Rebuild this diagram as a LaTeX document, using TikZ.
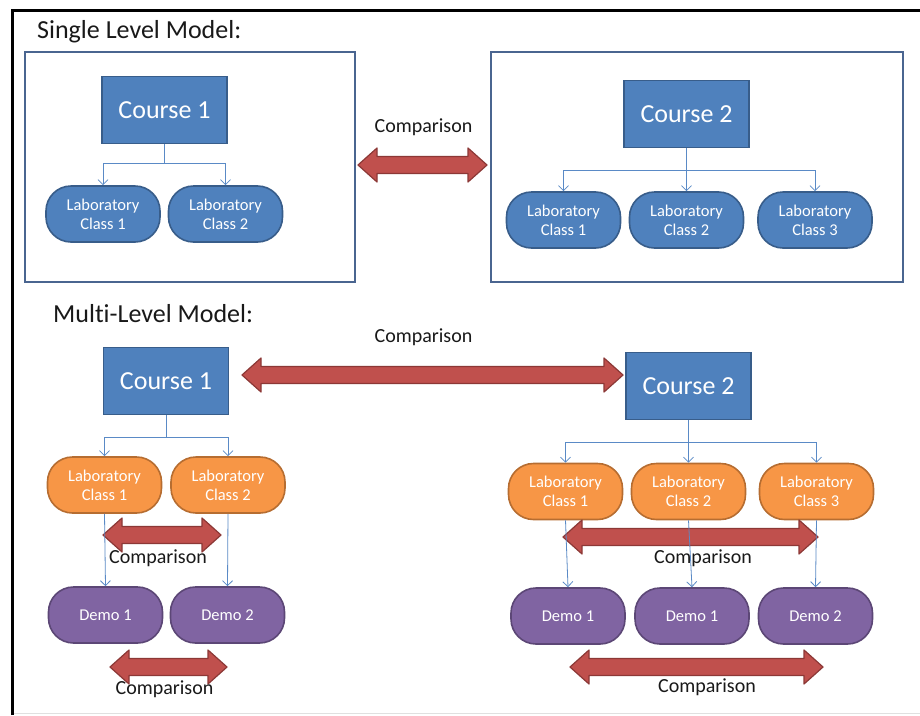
\documentclass[tikz,border=0pt]{standalone}
\usepackage{fontspec}
\setmainfont{Carlito}[Ligatures=NoCommon]
\usetikzlibrary{arrows.meta}

\definecolor{courseFill}{HTML}{4F81BD}
\definecolor{courseLine}{HTML}{385D8A}
\definecolor{labFill}{HTML}{F79646}
\definecolor{labLine}{HTML}{B66D31}
\definecolor{demoFill}{HTML}{8064A2}
\definecolor{demoLine}{HTML}{5C4776}
\definecolor{cmpFill}{HTML}{C0504D}
\definecolor{cmpLine}{HTML}{8C3836}
\definecolor{frameBlue}{HTML}{4A6590}
\definecolor{linkBlue}{HTML}{5A8AC6}

% double-headed comparison arrow: #1 = left tip x, #2 = right tip x, #3 = centre y
\newcommand\cmparrow[3]{%
  \pgfmathsetmacro\cmpXa{#1+19}\pgfmathsetmacro\cmpXb{#2-19}%
  \pgfmathsetmacro\cmpYt{#3-17}\pgfmathsetmacro\cmpYb{#3+17}%
  \pgfmathsetmacro\cmpSt{#3-8.5}\pgfmathsetmacro\cmpSb{#3+8.5}%
  \draw[cmp] (#1,#3) -- (\cmpXa,\cmpYt) -- (\cmpXa,\cmpSt) -- (\cmpXb,\cmpSt)
    -- (\cmpXb,\cmpYt) -- (#2,#3) -- (\cmpXb,\cmpYb) -- (\cmpXb,\cmpSb)
    -- (\cmpXa,\cmpSb) -- (\cmpXa,\cmpYb) -- cycle;}

\begin{document}
\begin{tikzpicture}[x=1pt,y=-1pt,
  course/.style={draw=courseLine, fill=courseFill, line width=1.6pt,
    text=white, font=\fontsize{26}{30}\selectfont,
    minimum width=125pt, minimum height=67pt, inner sep=0pt},
  pill/.style={line width=1.6pt, rounded corners=25pt, text=white,
    align=center, font=\fontsize{16.5}{19}\selectfont,
    minimum width=114pt, minimum height=56pt, inner sep=0pt},
  lab/.style={pill, draw=courseLine, fill=courseFill},
  olab/.style={pill, draw=labLine, fill=labFill},
  demo/.style={pill, draw=demoLine, fill=demoFill},
  group/.style={draw=frameBlue, line width=2.4pt},
  link/.style={draw=linkBlue, line width=0.8pt,
    -{Straight Barb[length=5pt,width=10pt]}},
  cmp/.style={fill=cmpFill, draw=cmpLine, line width=1.2pt, line join=round},
  cmplabel/.style={anchor=base, font=\fontsize{20}{24}\selectfont, text=black!90, inner sep=0pt},
  title/.style={anchor=base west, font=\fontsize{26}{30}\selectfont, text=black!90, inner sep=0pt}]

\useasboundingbox (0,0) rectangle (920,715);
\fill[white] (0,0) rectangle (920,715);

% outer frame
\draw[black, line width=3pt] (12,715) -- (12,10) -- (920,10);
\draw[black!12, line width=1pt] (14,713) -- (920,713);

% ---------------- single level model ----------------
\node[title] (t1) at (37,38) {Single Level Model:};
\draw[group] (25,52) rectangle (355,282);
\draw[group] (491,52) rectangle (903,282);

\node[course] (sC1) at (164.5,110) {Course 1};
\node[lab] (sL1) at (103,214) {Laboratory\\Class 1};
\node[lab] (sL2) at (225.5,214) {Laboratory\\Class 2};
\coordinate (sJ1) at (164.5,163);
\draw[draw=linkBlue, line width=0.8pt] (sC1.south) -- (sJ1);
\draw[link] (sJ1) -| (sL1.north);
\draw[link] (sJ1) -| (sL2.north);

\node[course] (sC2) at (686.5,114) {Course 2};
\node[lab] (sR1) at (563.5,220) {Laboratory\\Class 1};
\node[lab] (sR2) at (686.5,220) {Laboratory\\Class 2};
\node[lab] (sR3) at (815,220) {Laboratory\\Class 3};
\coordinate (sJ2) at (686.5,170);
\draw[draw=linkBlue, line width=0.8pt] (sC2.south) -- (sJ2);
\draw[link] (sJ2) -| (sR1.north);
\draw[link] (sC2.south) -- (sR2.north);
\draw[link] (sJ2) -| (sR3.north);

\cmparrow{358}{487}{165}
\node[cmplabel] (c1) at (423.5,132) {Comparison};

% ---------------- multi-level model ----------------
\node[title] (t2) at (53,322) {Multi-Level Model:};

\node[course] (mC1) at (166,381) {Course 1};
\node[olab] (mL1) at (104.5,485) {Laboratory\\Class 1};
\node[olab] (mL2) at (228,485) {Laboratory\\Class 2};
\node[demo] (mD1) at (105.5,615) {Demo 1};
\node[demo] (mD2) at (227.5,615) {Demo 2};
\coordinate (mJ1) at (166,437);
\draw[draw=linkBlue, line width=0.8pt] (mC1.south) -- (mJ1);
\draw[link] (mJ1) -| (mL1.north);
\draw[link] (mJ1) -| (mL2.north);

\node[course] (mC2) at (688.5,386) {Course 2};
\node[olab] (mR1) at (565.5,491.5) {Laboratory\\Class 1};
\node[olab] (mR2) at (688.5,491.5) {Laboratory\\Class 2};
\node[olab] (mR3) at (816.5,491.5) {Laboratory\\Class 3};
\node[demo] (mE1) at (568,616) {Demo 1};
\node[demo] (mE2) at (692,616) {Demo 1};
\node[demo] (mE3) at (815.5,616) {Demo 2};
\coordinate (mJ2) at (688.5,442);
\draw[draw=linkBlue, line width=0.8pt] (mC2.south) -- (mJ2);
\draw[link] (mJ2) -| (mR1.north);
\draw[link] (mC2.south) -- (mR2.north);
\draw[link] (mJ2) -| (mR3.north);

% comparison arrows between the two hierarchies
\cmparrow{242}{623}{375}
\node[cmplabel] (c2) at (423.5,342) {Comparison};

\cmparrow{103}{221}{535}
\node[cmplabel] (c3) at (158,563) {Comparison};
\cmparrow{110}{227}{667}
\node[cmplabel] (c4) at (164.5,694) {Comparison};

\cmparrow{563}{818}{537}
\node[cmplabel] (c5) at (703,563) {Comparison};
\cmparrow{570}{823}{667}
\node[cmplabel] (c6) at (707,692) {Comparison};

% laboratory class to demo links
\draw[link] (mL1.south) -- (mD1.north);
\draw[link] (mL2.south) -- (mD2.north);
\draw[link] (mR1.south) -- (mE1.north);
\draw[link] (mR2.south) -- (mE2.north);
\draw[link] (mR3.south) -- (mE3.north);

\end{tikzpicture}
\end{document}
